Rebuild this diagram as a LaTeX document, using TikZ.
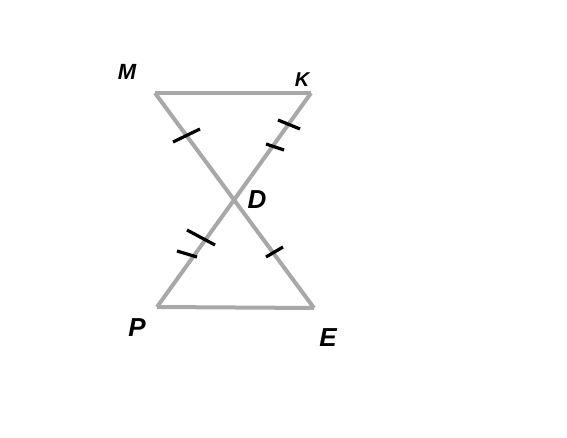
\documentclass[tikz,border=0pt]{standalone}
\usepackage{fontspec}
\setmainfont{Liberation Sans}
\definecolor{seg}{RGB}{168,168,168}
\begin{document}
\begin{tikzpicture}[x=1pt,y=-1pt,
  segline/.style={draw=seg,line width=4pt},
  tick/.style={draw=black,line width=3.2pt},
  lbl/.style={inner sep=0pt,font=\bfseries\itshape\fontsize{26}{26}\selectfont}]
\useasboundingbox[fill=white] (0,0) rectangle (567,438);
\coordinate (M) at (155,93);
\coordinate (K) at (311,93);
\coordinate (P) at (157,307);
\coordinate (E) at (314,308);
\draw[segline] (M) -- (K);
\draw[segline] (P) -- (E);
\draw[segline] (M) -- (E);
\draw[segline] (K) -- (P);
% ticks
\draw[tick] (173,142) -- (200,129);
\draw[tick] (278,120) -- (300,129);
\draw[tick] (266,144) -- (284,150);
\draw[tick] (187,230) -- (215,245);
\draw[tick] (177,251) -- (197,257);
\draw[tick] (266,257) -- (283,247);
% labels
\node[lbl,font=\bfseries\itshape\fontsize{22}{22}\selectfont] (lM) at (127,72) {M};
\node[lbl,font=\bfseries\itshape\fontsize{20}{20}\selectfont] (lK) at (302,80) {K};
\node[lbl] (lD) at (257,200) {D};
\node[lbl] (lP) at (137,328) {P};
\node[lbl] (lE) at (328,338) {E};
\end{tikzpicture}
\end{document}
